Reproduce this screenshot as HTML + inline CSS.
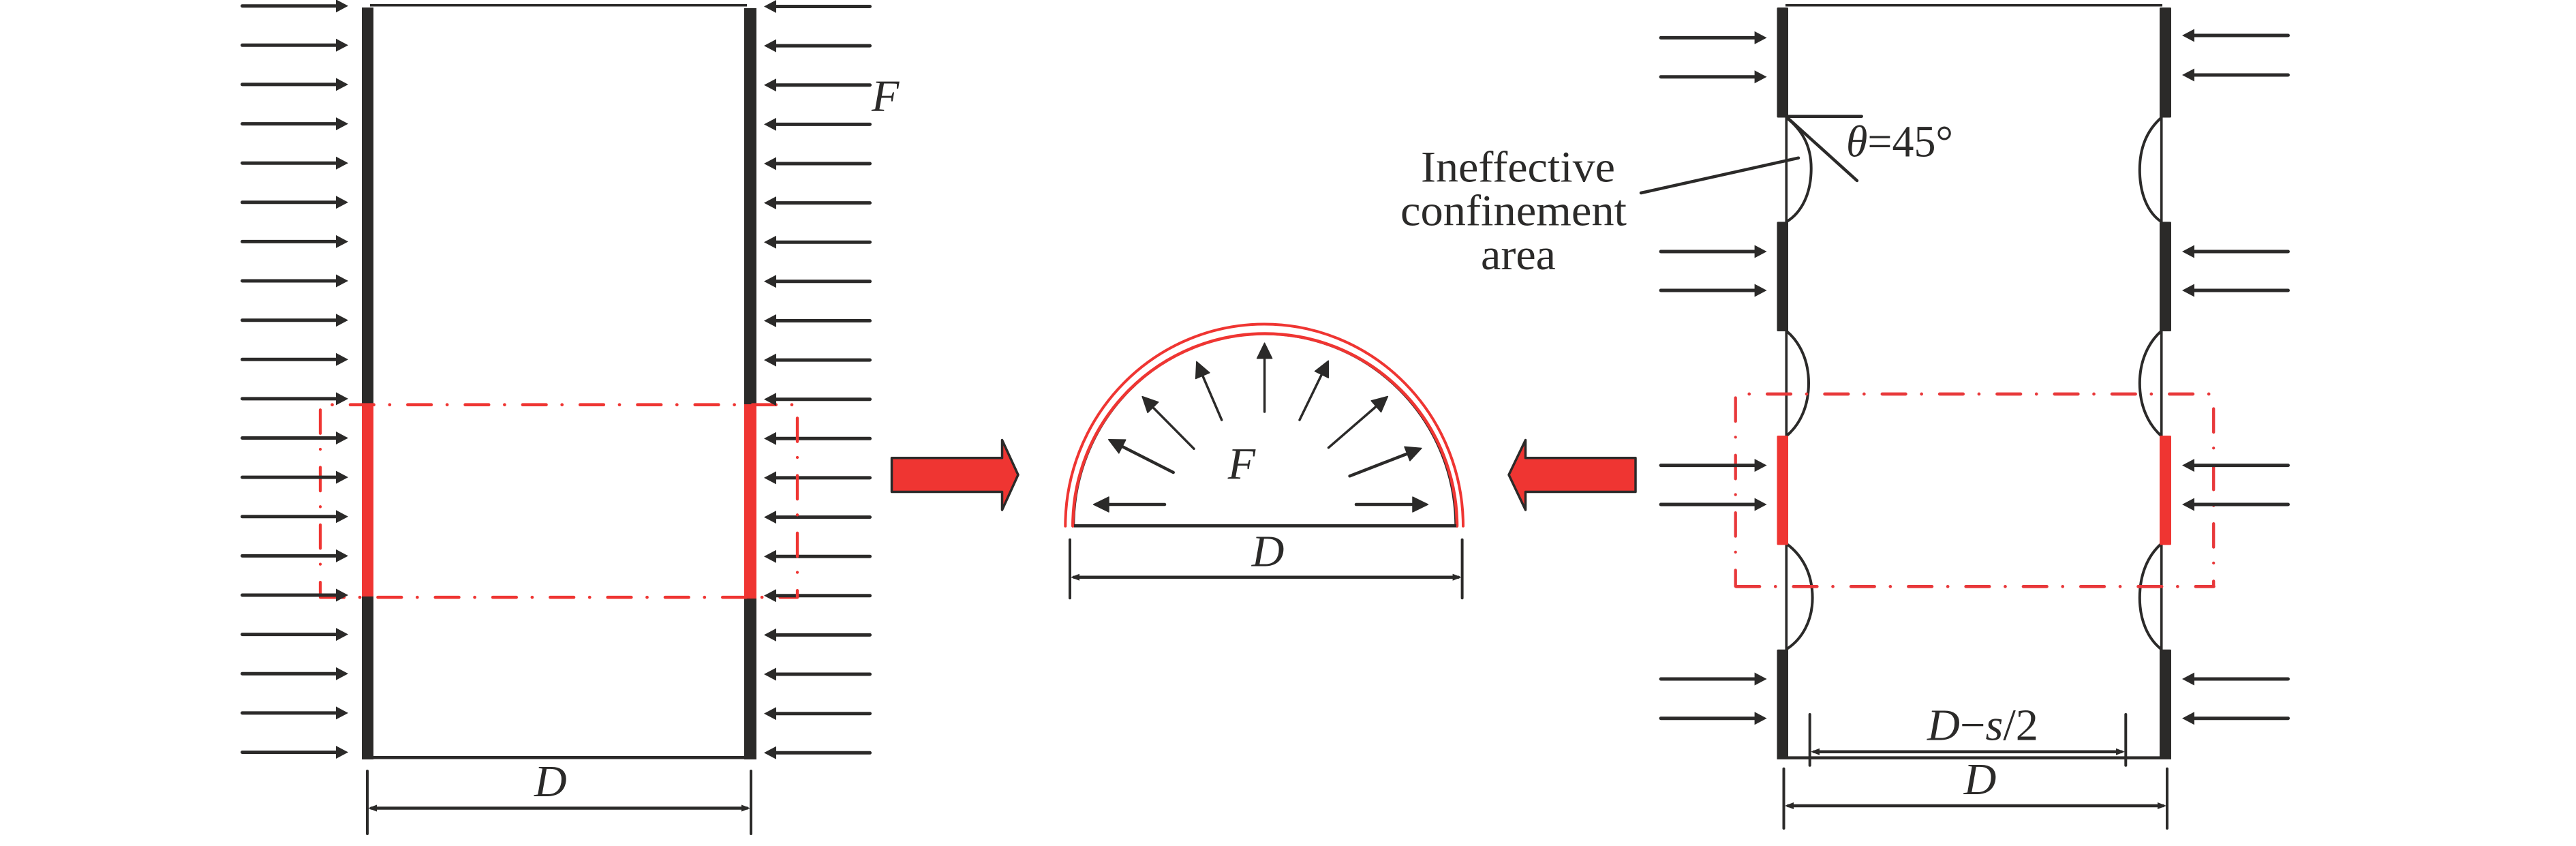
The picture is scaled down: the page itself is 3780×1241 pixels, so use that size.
<!DOCTYPE html>
<html>
<head>
<meta charset="utf-8">
<style>
html,body{margin:0;padding:0;background:#fff;width:3780px;height:1241px;overflow:hidden}
svg{display:block}
text{font-family:"Liberation Serif",serif;fill:#2b2a29}
</style>
</head>
<body>
<svg width="3780" height="1241" viewBox="0 0 3780 1241" xmlns="http://www.w3.org/2000/svg">
<defs>
<g id="r"><rect x="-158" y="-2.5" width="144" height="5" rx="2.5" fill="#2b2a29"/><path d="M0,0L-18,-9.5V9.5Z" fill="#2b2a29"/></g>
<g id="l"><rect x="14" y="-2.5" width="144" height="5" rx="2.5" fill="#2b2a29"/><path d="M0,0L18,-9.5V9.5Z" fill="#2b2a29"/></g>
<marker id="m" markerUnits="userSpaceOnUse" markerWidth="40" markerHeight="40" refX="12" refY="0" viewBox="0 -20 40 40" orient="auto" overflow="visible"><path d="M1,-11L23.5,0L1,11Z" fill="#2b2a29" stroke="#2b2a29" stroke-width="1.5" stroke-linejoin="round"/></marker>
<g id="dimR"><path d="M0,0L-13,-5V5Z" fill="#2b2a29"/></g>
<g id="dimL"><path d="M0,0L13,-5V5Z" fill="#2b2a29"/></g>
</defs>

<!-- LEFT FIGURE -->
<g fill="#2b2a29">
<rect x="531" y="11" width="17" height="1103"/>
<rect x="1092" y="12" width="18" height="1102"/>
<rect x="543" y="6" width="553" height="3.5"/>
<rect x="531" y="1109" width="579" height="4.5"/>
</g>
<g fill="#ef3532">
<rect x="531" y="593" width="17" height="282"/>
<rect x="1092" y="593" width="18" height="285"/>
</g>
<g fill="none" stroke="#ef3532" stroke-linecap="round" stroke-dasharray="34.5 23.25 0.01 26.54">
<line x1="486" y1="593.7" x2="1166" y2="593.7" stroke-width="4.7" stroke-dashoffset="56.25"/>
<line x1="470.25" y1="876.2" x2="1170" y2="876.2" stroke-width="4.7"/>
<line x1="470" y1="601.25" x2="470" y2="876" stroke-width="4.3"/>
</g>
<g>
<use href="#r" x="511" y="8.7"/><use href="#r" x="511" y="66.3"/><use href="#r" x="511" y="123.9"/><use href="#r" x="511" y="181.6"/><use href="#r" x="511" y="239.2"/><use href="#r" x="511" y="296.8"/><use href="#r" x="511" y="354.4"/><use href="#r" x="511" y="412"/><use href="#r" x="511" y="469.7"/><use href="#r" x="511" y="527.3"/><use href="#r" x="511" y="584.9"/><use href="#r" x="511" y="642.5"/><use href="#r" x="511" y="700.1"/><use href="#r" x="511" y="757.8"/><use href="#r" x="511" y="815.4"/><use href="#r" x="511" y="873"/><use href="#r" x="511" y="930.6"/><use href="#r" x="511" y="988.2"/><use href="#r" x="511" y="1045.9"/><use href="#r" x="511" y="1103.5"/>
<use href="#l" x="1121" y="9.5"/><use href="#l" x="1121" y="67.1"/><use href="#l" x="1121" y="124.7"/><use href="#l" x="1121" y="182.4"/><use href="#l" x="1121" y="240"/><use href="#l" x="1121" y="297.6"/><use href="#l" x="1121" y="355.2"/><use href="#l" x="1121" y="412.8"/><use href="#l" x="1121" y="470.5"/><use href="#l" x="1121" y="528.1"/><use href="#l" x="1121" y="585.7"/><use href="#l" x="1121" y="643.3"/><use href="#l" x="1121" y="700.9"/><use href="#l" x="1121" y="758.6"/><use href="#l" x="1121" y="816.2"/><use href="#l" x="1121" y="873.8"/><use href="#l" x="1121" y="931.4"/><use href="#l" x="1121" y="989"/><use href="#l" x="1121" y="1046.7"/><use href="#l" x="1121" y="1104.3"/>
</g>
<line x1="1170" y1="613.25" x2="1170" y2="876" fill="none" stroke="#ef3532" stroke-width="4.3" stroke-linecap="round" stroke-dasharray="34.5 23.25 0.01 26.54"/>
<text x="1279" y="163" font-size="66" font-style="italic">F</text>
<g stroke="#2b2a29" fill="none" stroke-linecap="round">
<line x1="539" y1="1131" x2="539" y2="1223" stroke-width="4"/>
<line x1="1102" y1="1131" x2="1102" y2="1223" stroke-width="4"/>
<line x1="545" y1="1185.5" x2="1096" y2="1185.5" stroke-width="4.5"/>
</g>
<use href="#dimL" x="540" y="1185.5"/><use href="#dimR" x="1101" y="1185.5"/>
<text x="784" y="1168" font-size="66" font-style="italic">D</text>

<!-- BIG ARROWS -->
<path d="M1308.5,671.7H1470.5V645.5L1494,696.5L1470.5,748V721.5H1308.5Z" fill="#ef3532" stroke="#2b2a29" stroke-width="3.5" stroke-linejoin="round"/>
<path d="M2400,671.7H2238.5V645.5L2214,696.5L2238.5,748V721.5H2400Z" fill="#ef3532" stroke="#2b2a29" stroke-width="3.5" stroke-linejoin="round"/>

<!-- MIDDLE FIGURE -->
<g fill="none" stroke-linecap="round">
<path d="M1576,771.5A279.5,281 0 0 1 2135.5,771.5" stroke="#2b2a29" stroke-width="2.5"/>
<path d="M1574.3,771.7A281.8,282.2 0 0 1 2138,771.7" stroke="#ef3532" stroke-width="4.5"/>
<path d="M1563.3,771.7A291.8,296.2 0 0 1 2147,771.7" stroke="#ef3532" stroke-width="4"/>
</g>
<rect x="1576" y="769" width="561" height="4.6" fill="#2b2a29"/>
<g stroke="#2b2a29" stroke-linecap="round" fill="none">
<line x1="1855.6" y1="604" x2="1855.6" y2="514.7" stroke-width="3.5" marker-end="url(#m)"/>
<line x1="1792.7" y1="616" x2="1760.4" y2="541" stroke-width="3.5" marker-end="url(#m)"/>
<line x1="1907" y1="616" x2="1944.2" y2="539.5" stroke-width="3.5" marker-end="url(#m)"/>
<line x1="1752" y1="658.3" x2="1684.2" y2="589.8" stroke-width="3.5" marker-end="url(#m)"/>
<line x1="1949.5" y1="656.7" x2="2027.7" y2="589" stroke-width="3.5" marker-end="url(#m)"/>
<line x1="1721.7" y1="693" x2="1637" y2="650" stroke-width="4.5" marker-end="url(#m)"/>
<line x1="1980.6" y1="698.3" x2="2075.2" y2="661.6" stroke-width="4.5" marker-end="url(#m)"/>
<line x1="1709" y1="740" x2="1616" y2="740" stroke-width="4.5" marker-end="url(#m)"/>
<line x1="1990" y1="740" x2="2084" y2="740" stroke-width="4.5" marker-end="url(#m)"/>
</g>
<text x="1801.7" y="702.7" font-size="66" font-style="italic">F</text>
<text x="1836.7" y="830.7" font-size="66" font-style="italic">D</text>
<g stroke="#2b2a29" fill="none" stroke-linecap="round">
<line x1="1570" y1="791.7" x2="1570" y2="877.3" stroke-width="4"/>
<line x1="2145.6" y1="791.7" x2="2145.6" y2="877.3" stroke-width="4"/>
<line x1="1576" y1="846.7" x2="2140" y2="846.7" stroke-width="4.5"/>
</g>
<use href="#dimL" x="1571" y="846.7"/><use href="#dimR" x="2144.6" y="846.7"/>

<!-- RIGHT FIGURE -->
<g stroke="#2b2a29" stroke-width="3.7" fill="none">
<line x1="2621.3" y1="170" x2="2621.3" y2="330"/>
<line x1="2621.3" y1="484" x2="2621.3" y2="642"/>
<line x1="2621.3" y1="796" x2="2621.3" y2="955"/>
<line x1="3171.7" y1="170" x2="3171.7" y2="330"/>
<line x1="3171.7" y1="484" x2="3171.7" y2="642"/>
<line x1="3171.7" y1="796" x2="3171.7" y2="955"/>
<g stroke-width="4">
<path d="M2622,173C2643,190 2657.7,212 2657.7,247C2657.7,285 2643,312 2622,325"/>
<path d="M2622,486C2642,503 2654,530 2654,562C2654,595 2642,622 2622,639"/>
<path d="M2622,798C2645,815 2659.6,842 2659.6,877C2659.6,910 2645,937 2622,952"/>
<path d="M3171,173C3152,190 3139.8,215 3139.8,249C3139.8,285 3152,312 3171,325"/>
<path d="M3171,486C3152,503 3139.8,530 3139.8,562C3139.8,595 3152,622 3171,639"/>
<path d="M3171,798C3152,815 3139.8,842 3139.8,877C3139.8,910 3152,937 3171,952"/>
</g>
</g>
<g fill="#2b2a29">
<rect x="2607.5" y="11" width="16.5" height="161.5" rx="1.5"/>
<rect x="2607.5" y="325.4" width="16.5" height="160.6" rx="1.5"/>
<rect x="2607.5" y="952.7" width="16.5" height="160.3" rx="1.5"/>
<rect x="3169" y="11" width="17" height="161.5" rx="1.5"/>
<rect x="3169" y="325.4" width="17" height="160.6" rx="1.5"/>
<rect x="3169" y="952.7" width="17" height="160.3" rx="1.5"/>
<rect x="2620" y="6" width="553" height="3.5"/>
<rect x="2607.5" y="1109.4" width="578.5" height="4.5"/>
</g>
<g fill="#ef3532">
<rect x="2607.5" y="639" width="16.5" height="160.4" rx="1.5"/>
<rect x="3169" y="639" width="17" height="160.4" rx="1.5"/>
</g>
<g fill="none" stroke="#e8383a" stroke-linecap="round" stroke-dasharray="34.5 23.25 0.01 26.54">
<line x1="2565" y1="578" x2="3245" y2="578" stroke-width="4.7" stroke-dashoffset="56"/>
<line x1="2547.5" y1="860.4" x2="3248.5" y2="860.4" stroke-width="4.7"/>
<line x1="2546.7" y1="583.5" x2="2546.7" y2="860" stroke-width="4.3"/>
<line x1="3248.2" y1="599.5" x2="3248.2" y2="860" stroke-width="4.3"/>
</g>
<g>
<use href="#r" x="2592.6" y="55.4"/><use href="#r" x="2592.6" y="112.7"/><use href="#r" x="2592.6" y="369"/><use href="#r" x="2592.6" y="426"/><use href="#r" x="2592.6" y="682.6"/><use href="#r" x="2592.6" y="740"/><use href="#r" x="2592.6" y="996"/><use href="#r" x="2592.6" y="1053.7"/>
<use href="#l" x="3202" y="52"/><use href="#l" x="3202" y="110"/><use href="#l" x="3202" y="369"/><use href="#l" x="3202" y="426"/><use href="#l" x="3202" y="682.6"/><use href="#l" x="3202" y="740"/><use href="#l" x="3202" y="996"/><use href="#l" x="3202" y="1053.7"/>
</g>
<g stroke="#2b2a29" fill="none" stroke-linecap="round">
<line x1="2622" y1="170.7" x2="2731.7" y2="170.7" stroke-width="4.5"/>
<line x1="2621" y1="171" x2="2725" y2="265" stroke-width="4.5"/>
<line x1="2639" y1="231.7" x2="2408" y2="283" stroke-width="4.5"/>
</g>
<text x="2709" y="229.3" font-size="66" textLength="157" lengthAdjust="spacingAndGlyphs"><tspan font-style="italic">θ</tspan>=45°</text>
<text x="2085" y="266.7" font-size="65" textLength="285" lengthAdjust="spacingAndGlyphs">Ineffective</text>
<text x="2055" y="330.7" font-size="65" textLength="332" lengthAdjust="spacingAndGlyphs">confinement</text>
<text x="2173" y="395" font-size="65" textLength="110" lengthAdjust="spacingAndGlyphs">area</text>
<text x="2828" y="1085.7" font-size="66" textLength="163" lengthAdjust="spacingAndGlyphs"><tspan font-style="italic">D</tspan>−<tspan font-style="italic">s</tspan>/2</text>
<g stroke="#2b2a29" fill="none" stroke-linecap="round">
<line x1="2655.7" y1="1048" x2="2655.7" y2="1122.7" stroke-width="4"/>
<line x1="3119.3" y1="1048" x2="3119.3" y2="1122.7" stroke-width="4"/>
<line x1="2662" y1="1102.7" x2="3113" y2="1102.7" stroke-width="4.5"/>
<line x1="2617.5" y1="1127.7" x2="2617.5" y2="1215" stroke-width="4"/>
<line x1="3180" y1="1127.7" x2="3180" y2="1215" stroke-width="4"/>
<line x1="2624" y1="1182" x2="3174" y2="1182" stroke-width="4.5"/>
</g>
<use href="#dimL" x="2657" y="1102.7"/><use href="#dimR" x="3118" y="1102.7"/>
<use href="#dimL" x="2619" y="1182"/><use href="#dimR" x="3179" y="1182"/>
<text x="2881.7" y="1165" font-size="66" font-style="italic">D</text>
</svg>
</body>
</html>
